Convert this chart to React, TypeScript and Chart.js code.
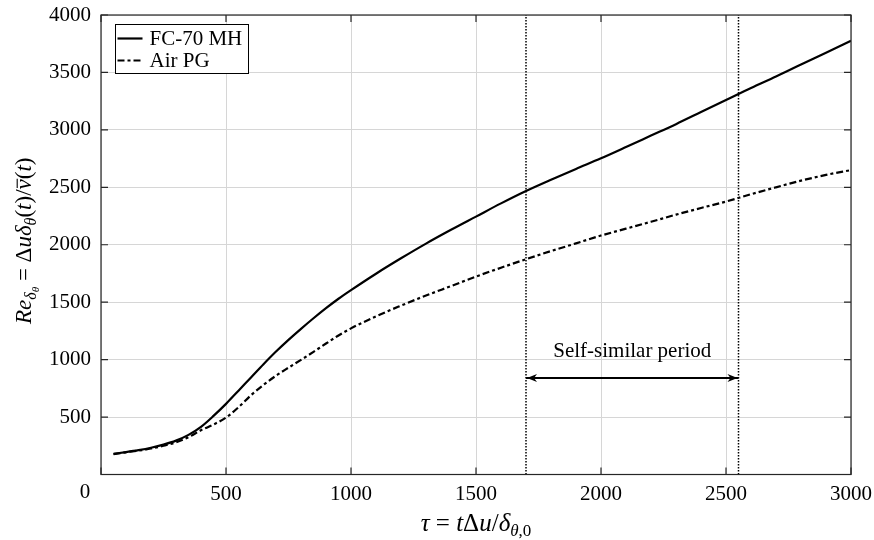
import { useEffect, useRef } from "react";
import { Chart, registerables } from "chart.js";

Chart.register(...registerables);

// ---- data ----
const tau = [50, 100, 150, 200, 250, 300, 350, 400, 450, 500, 550, 600, 650, 700, 750, 800, 850, 900, 950, 1000, 1100, 1200, 1300, 1400, 1500, 1600, 1700, 1800, 1900, 2000, 2100, 2200, 2300, 2400, 2500, 2600, 2700, 2800, 2900, 3000];
const fc70MH = [180, 195, 212, 233, 260, 295, 345, 415, 510, 615, 730, 845, 960, 1070, 1172, 1268, 1360, 1448, 1530, 1605, 1748, 1882, 2010, 2130, 2245, 2360, 2468, 2566, 2660, 2752, 2850, 2950, 3050, 3155, 3260, 3365, 3465, 3570, 3672, 3776];
const airPG = [178, 193, 208, 226, 250, 280, 325, 385, 435, 495, 585, 690, 780, 860, 930, 998, 1068, 1140, 1210, 1272, 1377, 1470, 1558, 1640, 1723, 1800, 1874, 1945, 2012, 2080, 2140, 2200, 2262, 2320, 2376, 2440, 2500, 2558, 2608, 2650];
const seriesLabels = ["FC-70 MH", "Air PG"];
const periodBounds = [1700, 2550];
const arrowLevel = [840];
const periodLabel = "Self-similar period";
const periodLabelLevel = 1025;
const xRange = [0, 3000];
const yRange = [0, 4000];
const tickStep = [500, 500];

const FONT = '"Liberation Serif", "Times New Roman", serif';
const AXIS = "#262626";

type Seg = { t: string; it?: boolean; s: number; dy?: number; bar?: boolean };

function drawRich(ctx: CanvasRenderingContext2D, segs: Seg[], cx: number, baseY: number) {
  let total = 0;
  const widths = segs.map((g) => {
    ctx.font = `${g.it ? "italic " : ""}${g.s}px ${FONT}`;
    const w = ctx.measureText(g.t).width;
    total += w;
    return w;
  });
  let x = cx - total / 2;
  ctx.textAlign = "left";
  ctx.textBaseline = "alphabetic";
  segs.forEach((g, i) => {
    ctx.font = `${g.it ? "italic " : ""}${g.s}px ${FONT}`;
    const yy = baseY + (g.dy || 0);
    ctx.fillText(g.t, x, yy);
    if (g.bar) {
      ctx.beginPath();
      ctx.lineWidth = 1.1;
      ctx.moveTo(x + 1.5, yy - g.s * 0.6);
      ctx.lineTo(x + widths[i] + 0.5, yy - g.s * 0.6);
      ctx.stroke();
    }
    x += widths[i];
  });
}

const overlay = {
  id: "overlay",
  afterDatasetsDraw(chart: any) {
    const { ctx, chartArea: a, scales } = chart;
    const xs = scales.x;
    const ys = scales.y;
    ctx.save();
    ctx.fillStyle = "#000";
    ctx.strokeStyle = "#000";

    // arrow heads of the self-similar period arrow
    const ay = ys.getPixelForValue(arrowLevel[0]);
    const x1 = xs.getPixelForValue(periodBounds[0]);
    const x2 = xs.getPixelForValue(periodBounds[1]);
    const head = (tip: number, dir: number) => {
      ctx.beginPath();
      ctx.moveTo(tip, ay);
      ctx.lineTo(tip + dir * 10, ay - 4);
      ctx.lineTo(tip + dir * 7, ay);
      ctx.lineTo(tip + dir * 10, ay + 4);
      ctx.closePath();
      ctx.fill();
    };
    head(x1 + 1, 1);
    head(x2 - 1, -1);

    ctx.font = `21px ${FONT}`;
    ctx.textAlign = "center";
    ctx.textBaseline = "alphabetic";
    ctx.fillText(periodLabel, (x1 + x2) / 2, ys.getPixelForValue(periodLabelLevel));

    // box
    ctx.strokeStyle = AXIS;
    ctx.lineWidth = 1.2;
    ctx.strokeRect(a.left, a.top, a.right - a.left, a.bottom - a.top);

    // inward ticks
    const tl = 7;
    ctx.beginPath();
    xs.ticks.forEach((t: any) => {
      const p = xs.getPixelForValue(t.value);
      ctx.moveTo(p, a.bottom);
      ctx.lineTo(p, a.bottom - tl);
      ctx.moveTo(p, a.top);
      ctx.lineTo(p, a.top + tl);
    });
    ys.ticks.forEach((t: any) => {
      const p = ys.getPixelForValue(t.value);
      ctx.moveTo(a.left, p);
      ctx.lineTo(a.left + tl, p);
      ctx.moveTo(a.right, p);
      ctx.lineTo(a.right - tl, p);
    });
    ctx.stroke();

    // "0" x label (offset left of the origin)
    ctx.fillStyle = "#000";
    ctx.font = `21px ${FONT}`;
    ctx.textAlign = "center";
    ctx.textBaseline = "top";
    ctx.fillText(String(xRange[0]), a.left - 16, a.bottom + 7);

    // legend
    const lx = a.left + 14.5;
    const ly = a.top + 9.5;
    ctx.fillStyle = "#fff";
    ctx.fillRect(lx, ly, 133, 49);
    ctx.strokeStyle = "#000";
    ctx.lineWidth = 1;
    ctx.strokeRect(lx, ly, 133, 49);
    chart.data.datasets.slice(0, 2).forEach((ds: any, i: number) => {
      const yy = ly + 14 + i * 22;
      ctx.beginPath();
      ctx.setLineDash(ds.borderDash || []);
      ctx.lineWidth = ds.borderWidth;
      ctx.strokeStyle = ds.borderColor;
      ctx.moveTo(lx + 2, yy);
      ctx.lineTo(lx + 27, yy);
      ctx.stroke();
      ctx.setLineDash([]);
      ctx.fillStyle = "#000";
      ctx.font = `21px ${FONT}`;
      ctx.textAlign = "left";
      ctx.textBaseline = "middle";
      ctx.fillText(ds.label, lx + 34, yy + 1);
    });

    // axis titles
    ctx.fillStyle = "#000";
    ctx.strokeStyle = "#000";
    const S = 23;
    const s = 16;
    drawRich(
      ctx,
      [
        { t: "τ", it: true, s: 25 },
        { t: " = ", s: 25 },
        { t: "t", it: true, s: 25 },
        { t: "Δ", s: 25 },
        { t: "u", it: true, s: 25 },
        { t: "/", s: 25 },
        { t: "δ", it: true, s: 25 },
        { t: "θ", it: true, s: 17, dy: 5 },
        { t: ",0", s: 17, dy: 5 },
      ],
      (a.left + a.right) / 2,
      531
    );

    ctx.translate(31, (a.top + a.bottom) / 2 - 4);
    ctx.rotate(-Math.PI / 2);
    drawRich(
      ctx,
      [
        { t: "Re", it: true, s: S },
        { t: "δ", it: true, s, dy: 5 },
        { t: "θ", it: true, s: 11, dy: 8 },
        { t: " = ", s: S },
        { t: "Δ", s: S },
        { t: "uδ", it: true, s: S },
        { t: "θ", it: true, s, dy: 5 },
        { t: "(", s: S },
        { t: "t", it: true, s: S },
        { t: ")/", s: S },
        { t: "ν", it: true, s: S, bar: true },
        { t: "(", s: S },
        { t: "t", it: true, s: S },
        { t: ")", s: S },
      ],
      0,
      0
    );
    ctx.restore();
  },
};

const noPad = (sc: any) => {
  sc.paddingLeft = 0;
  sc.paddingRight = 0;
  sc.paddingTop = 0;
  sc.paddingBottom = 0;
};

export default function App() {
  const ref = useRef<HTMLCanvasElement | null>(null);

  useEffect(() => {
    if (!ref.current) return;
    const chart = new Chart(ref.current, {
      type: "line",
      data: {
        datasets: [
          {
            label: seriesLabels[0],
            data: tau.map((t, i) => ({ x: t, y: fc70MH[i] })),
            borderColor: "#000",
            borderWidth: 2.2,
            pointRadius: 0,
            cubicInterpolationMode: "monotone",
          },
          {
            label: seriesLabels[1],
            data: tau.map((t, i) => ({ x: t, y: airPG[i] })),
            borderColor: "#000",
            borderWidth: 2.2,
            borderDash: [7, 3, 3, 3],
            pointRadius: 0,
            cubicInterpolationMode: "monotone",
          },
          {
            label: "start",
            data: [
              { x: periodBounds[0], y: yRange[0] },
              { x: periodBounds[0], y: yRange[1] },
            ],
            borderColor: "#000",
            borderWidth: 1.5,
            borderDash: [1.5, 1.5],
            pointRadius: 0,
          },
          {
            label: "end",
            data: [
              { x: periodBounds[1], y: yRange[0] },
              { x: periodBounds[1], y: yRange[1] },
            ],
            borderColor: "#000",
            borderWidth: 1.5,
            borderDash: [1.5, 1.5],
            pointRadius: 0,
          },
          {
            label: "period",
            data: [
              { x: periodBounds[0], y: arrowLevel[0] },
              { x: periodBounds[1], y: arrowLevel[0] },
            ],
            borderColor: "#000",
            borderWidth: 2,
            pointRadius: 0,
          },
        ],
      },
      options: {
        animation: false,
        responsive: false,
        maintainAspectRatio: false,
        layout: { padding: { top: 15, right: 23, left: 0, bottom: 0 } },
        plugins: { legend: { display: false }, tooltip: { enabled: false } },
        scales: {
          x: {
            type: "linear",
            min: xRange[0],
            max: xRange[1],
            afterFit: (sc: any) => {
              sc.height = 65.5;
              noPad(sc);
            },
            ticks: {
              stepSize: tickStep[0],
              color: "#000",
              padding: 7,
              maxRotation: 0,
              font: { family: FONT, size: 21 },
              callback: (v: any) => (v === xRange[0] ? "" : String(v)),
            },
            grid: { color: "#d6d6d6", lineWidth: 1, drawTicks: false },
            border: { display: false },
          },
          y: {
            type: "linear",
            min: yRange[0],
            max: yRange[1],
            afterFit: (sc: any) => {
              sc.width = 101;
              noPad(sc);
            },
            ticks: {
              stepSize: tickStep[1],
              color: "#000",
              padding: 10,
              font: { family: FONT, size: 21 },
              callback: (v: any) => (v === yRange[0] ? "" : String(v)),
            },
            grid: { color: "#d6d6d6", lineWidth: 1, drawTicks: false },
            border: { display: false },
          },
        },
      },
      plugins: [overlay],
    } as any);
    return () => chart.destroy();
  }, []);

  return (
    <div style={{ position: "fixed", left: 0, top: 0, width: 874, height: 540, background: "#fff" }}>
      <canvas ref={ref} width={874} height={540} style={{ width: 874, height: 540, display: "block" }} />
    </div>
  );
}
